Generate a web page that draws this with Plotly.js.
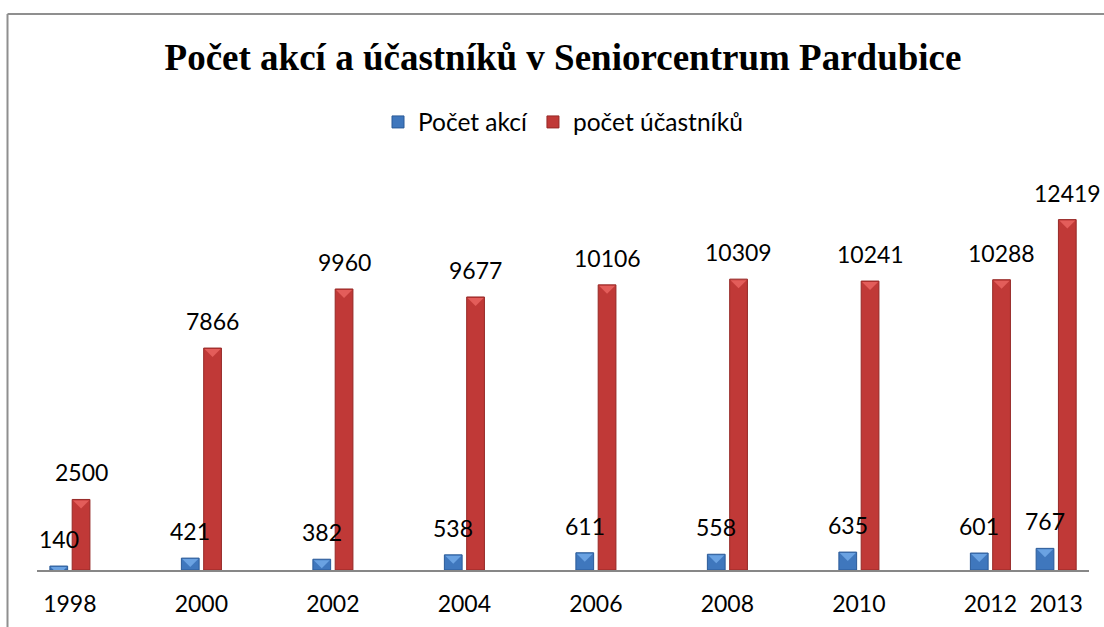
<!DOCTYPE html>
<html>
<head>
<meta charset="utf-8">
<script src="https://cdn.plot.ly/plotly-3.0.1.min.js"></script>
<style>html,body{margin:0;padding:0;background:#fff;}#chart{width:1104px;height:627px;}</style>
</head>
<body>
<div id="chart"></div>
<script>
var years = [1998, 2000, 2002, 2004, 2006, 2008, 2010, 2012, 2013];
var tickLabels = ["1998", "2000", "2002", "2004", "2006", "2008", "2010", "2012", "2013"];
var pocetAkci = [140, 421, 382, 538, 611, 558, 635, 601, 767];
var pocetUcastniku = [2500, 7866, 9960, 9677, 10106, 10309, 10241, 10288, 12419];
var seriesNames = ["Počet akcí", "počet účastníků"];

var barWidth = 0.27;
var blueOffset = -0.304;
var redOffset = 0.035;

var traces = [
  {
    type: "bar", name: seriesNames[0], x: years, y: pocetAkci,
    width: barWidth, offset: blueOffset,
    marker: {color: "#3f77bd", line: {color: "#2b5b98", width: 1}},
    hoverinfo: "x+y"
  },
  {
    type: "bar", name: seriesNames[1], x: years, y: pocetUcastniku,
    width: barWidth, offset: redOffset,
    marker: {color: "#c03937", line: {color: "#962826", width: 1}},
    hoverinfo: "x+y"
  }
];

var labelFont = {family: "Lato, 'Noto Sans', sans-serif", size: 23, color: "#000"};
var annotations = [];
var shapes = [];
function bevel(xc, val, color) {
  return {type: "path", xref: "x", yref: "y", xsizemode: "pixel", ysizemode: "pixel",
    xanchor: xc, yanchor: val, path: "M-8,-1 L8,-1 L0,-9 Z",
    fillcolor: color, line: {width: 0}, layer: "above"};
}
years.forEach(function (yr, i) {
  var xb = yr + blueOffset + barWidth / 2;
  var xr = yr + redOffset + barWidth / 2;
  annotations.push({x: xb, y: pocetAkci[i], xref: "x", yref: "y",
    text: String(pocetAkci[i]), showarrow: false, yshift: 27, font: labelFont});
  annotations.push({x: xr, y: pocetUcastniku[i], xref: "x", yref: "y",
    text: String(pocetUcastniku[i]), showarrow: false, yshift: 27, font: labelFont});
  shapes.push(bevel(xb, pocetAkci[i], "#6aa2e2"));
  shapes.push(bevel(xr, pocetUcastniku[i], "#e35d5a"));
});

shapes.push({type: "line", xref: "paper", yref: "paper", x0: (7.5 - 37) / 1052, x1: (1110 - 37) / 1052,
  y0: (570 - 14) / 395, y1: (570 - 14) / 395, line: {color: "#8f8f8f", width: 2}});
shapes.push({type: "line", xref: "paper", yref: "paper", x0: (7.5 - 37) / 1052, x1: (7.5 - 37) / 1052,
  y0: (570 - 14) / 395, y1: (570 - 640) / 395, line: {color: "#8f8f8f", width: 2}});

var layout = {
  width: 1104, height: 627,
  margin: {l: 37, r: 15, t: 175, b: 57},
  paper_bgcolor: "#ffffff", plot_bgcolor: "#ffffff",
  barmode: "overlay",
  title: {
    text: "<b>Počet akcí a účastníků v Seniorcentrum Pardubice</b>",
    font: {family: "'Liberation Serif', 'Times New Roman', serif", size: 37, color: "#000"},
    x: 0.5, xref: "paper", xanchor: "center",
    y: 1 - 57 / 627, yref: "container", yanchor: "middle"
  },
  showlegend: true,
  legend: {
    orientation: "h", x: 0.5, xanchor: "center", xref: "paper",
    y: (570 - 122) / 395, yanchor: "middle", yref: "paper",
    font: {family: "Lato, 'Noto Sans', sans-serif", size: 24.5, color: "#000"},
    itemclick: false, bgcolor: "rgba(0,0,0,0)", traceorder: "normal"
  },
  xaxis: {
    type: "linear", range: [1997.5, 2013.5],
    tickmode: "array", tickvals: years, ticktext: tickLabels,
    showgrid: false, zeroline: false,
    showline: true, linecolor: "#878787", linewidth: 2,
    ticks: "", ticklabelstandoff: 12,
    tickfont: {family: "Lato, 'Noto Sans', sans-serif", size: 23, color: "#000"},
    fixedrange: true
  },
  yaxis: {
    range: [0, 14000], visible: false, showgrid: false, zeroline: false, fixedrange: true
  },
  annotations: annotations,
  shapes: shapes
};

Plotly.newPlot("chart", traces, layout, {displayModeBar: false});
</script>
</body>
</html>
